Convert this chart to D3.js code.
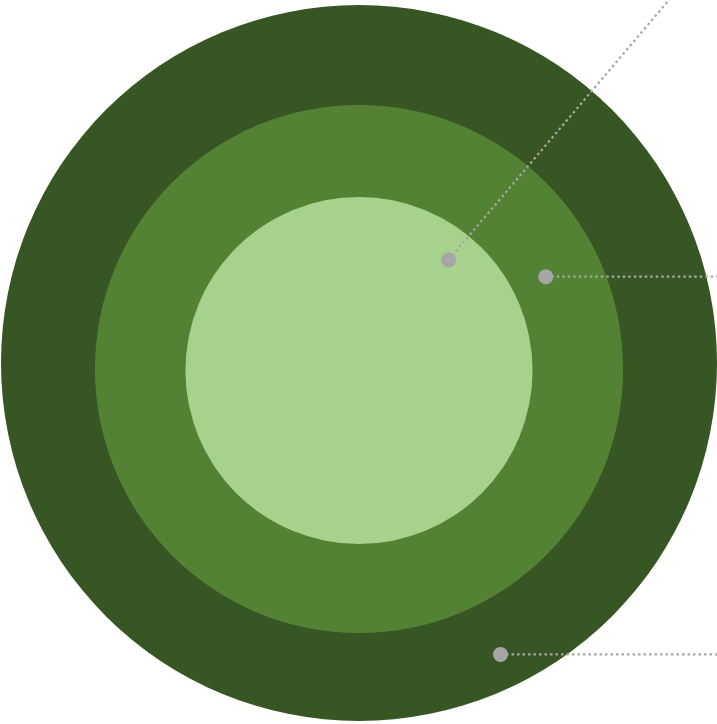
<!DOCTYPE html>
<html>
<head>
<meta charset="utf-8">
<script src="https://cdn.jsdelivr.net/npm/d3@7"></script>
<style>
  html, body { margin: 0; padding: 0; background: #ffffff; overflow: hidden; }
  svg { display: block; }
</style>
</head>
<body>
<svg id="chart" width="717" height="724"></svg>
<script>
// ---- data (nested sets, outer to inner) ----
const setNames = ["Outer", "Middle", "Inner"];
const setSizes = [100, 54.4, 23.5];
const setColors = ["#375623", "#548235", "#A9D18E"];

// ---- layout ----
const W = 717, H = 724;
const cx = 359;
const centerY = [363, 369, 370.5];
const maxRadius = 358;
// label anchor: position inside each set's own ring (angle in degrees, fraction of radius)
const anchorAngle = [64.1, -26.3, -51.0];
const anchorFrac = [0.905, 0.789, 0.82];
// leader directions (degrees, 0 = right, negative = up)
const leaderAngle = [0, 0, -49.7];

const svg = d3.select("#chart");
const r = d3.scaleSqrt().domain([0, d3.max(setSizes)]).range([0, maxRadius]);

const data = setNames.map((name, i) => ({
  name, size: setSizes[i], color: setColors[i], cy: centerY[i],
  angle: anchorAngle[i], frac: anchorFrac[i], lead: leaderAngle[i]
}));

svg.selectAll("circle.set")
  .data(data)
  .join("circle")
  .attr("class", "set")
  .attr("cx", cx)
  .attr("cy", d => d.cy)
  .attr("r", d => r(d.size))
  .attr("fill", d => d.color);

const anchors = data.map(d => {
  const a = d.angle * Math.PI / 180;
  const rad = r(d.size) * d.frac;
  const x = cx + rad * Math.cos(a);
  const y = d.cy + rad * Math.sin(a);
  const la = d.lead * Math.PI / 180;
  const L = 600;
  return { x, y, x2: x + L * Math.cos(la), y2: y + L * Math.sin(la) };
});

svg.selectAll("line.leader")
  .data(anchors)
  .join("line")
  .attr("class", "leader")
  .attr("x1", d => d.x)
  .attr("y1", d => d.y)
  .attr("x2", d => d.x2)
  .attr("y2", d => d.y2)
  .attr("stroke", "#a6a6a6")
  .attr("stroke-width", 2.2)
  .attr("stroke-dasharray", "2.5,3");

svg.selectAll("circle.dot")
  .data(anchors)
  .join("circle")
  .attr("class", "dot")
  .attr("cx", d => d.x)
  .attr("cy", d => d.y)
  .attr("r", 7.5)
  .attr("fill", "#a6a6a6");
</script>
</body>
</html>
